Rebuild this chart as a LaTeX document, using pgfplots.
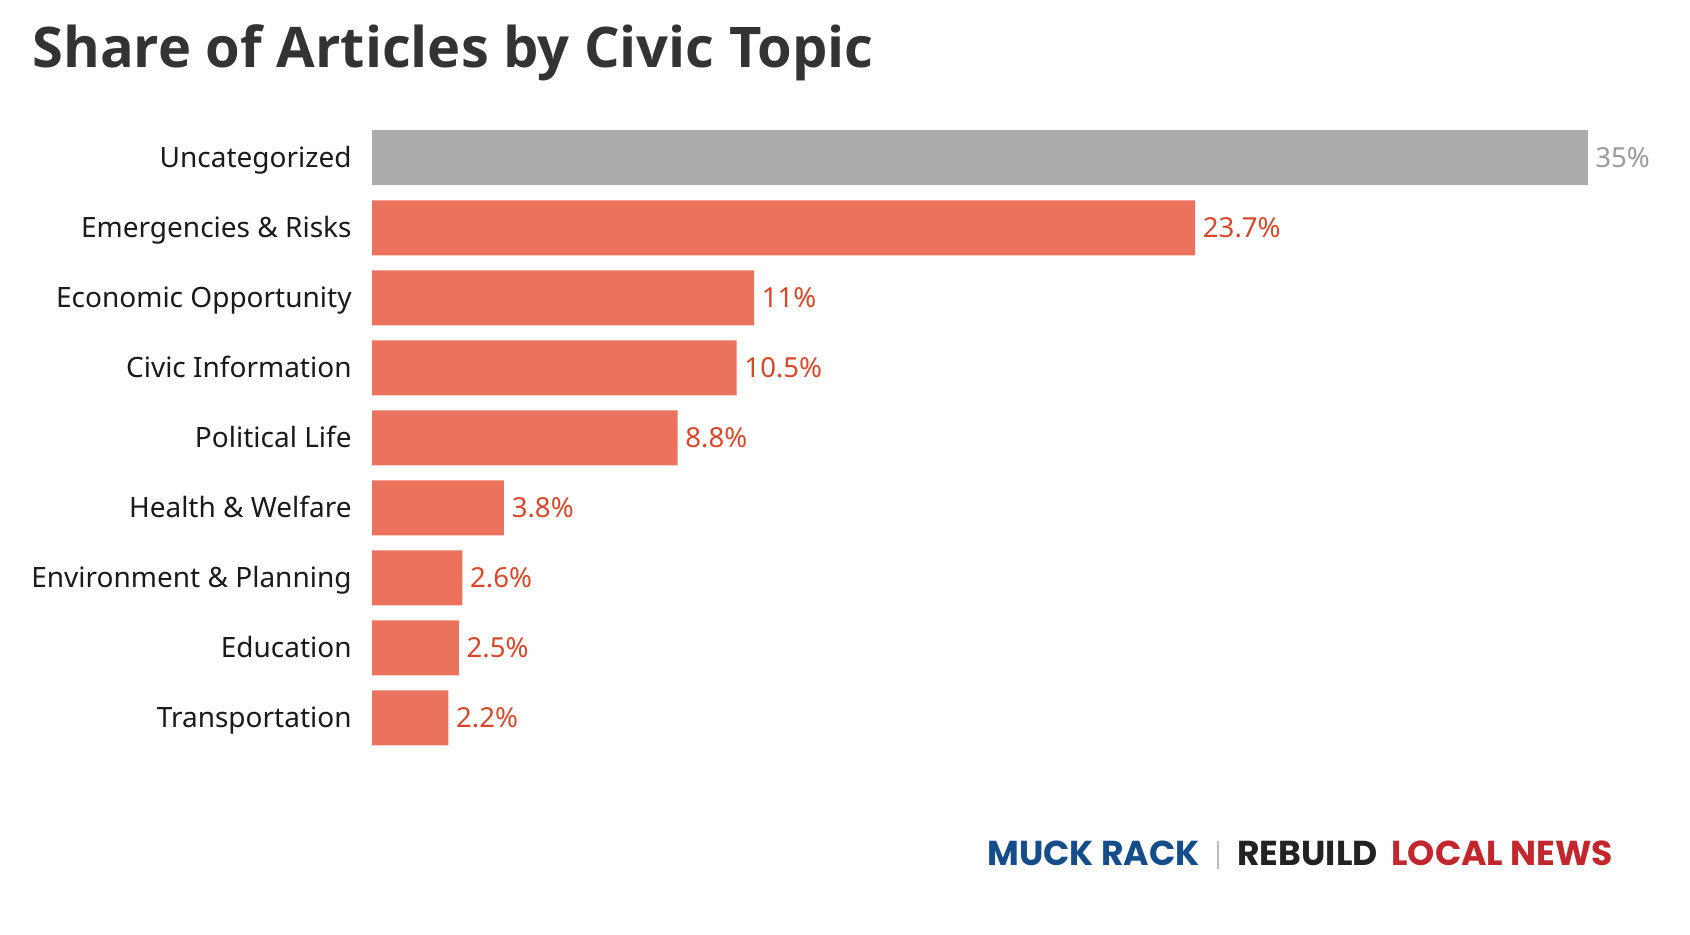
\documentclass[border=0pt]{standalone}
\usepackage{fontspec}
\setmainfont{Noto Sans}
\newfontfamily\titlefont{Open Sans}
\newfontfamily\logofont{Poppins}
\usepackage{pgfplots}
\usepackage{pgfplotstable}
\pgfplotsset{compat=1.18}

\definecolor{bargray}{HTML}{ABABAB}
\definecolor{barred}{HTML}{EB735E}
\definecolor{labgray}{HTML}{9A9A9A}
\definecolor{labred}{HTML}{D9472B}
\definecolor{titlegray}{HTML}{333333}
\definecolor{catblack}{HTML}{1A1A1A}
\definecolor{mrblue}{HTML}{154C8A}
\definecolor{rlblack}{HTML}{222222}
\definecolor{rlred}{HTML}{C1272D}
\definecolor{sepgray}{HTML}{BBBBBB}

% share of articles (%) per topic; row index = position from the top
\pgfplotstableread{
idx value
0 35
}\uncat
\pgfplotstableread{
idx value
1 23.7
2 11
3 10.5
4 8.8
5 3.8
6 2.6
7 2.5
8 2.2
}\civic

\begin{document}
\begin{tikzpicture}
\useasboundingbox (0,0) rectangle (845pt,467pt);

\node[anchor=base west, inner sep=0pt, text=titlegray,
      font={\titlefont\fontsize{28}{34}\selectfont\bfseries}]
  at (16pt,433pt) {Share of Articles by Civic Topic};

\begin{axis}[
  at={(186pt,90.55pt)}, anchor=south west,
  scale only axis, width=607.8pt, height=315pt,
  xmin=0, xmax=35, ymin=-0.5, ymax=8.5, y dir=reverse,
  xbar, bar width=27.5pt, bar shift=0pt,
  axis line style={draw=none}, major tick length=0pt,
  xtick=\empty, ytick={0,...,8},
  yticklabels={Uncategorized, Emergencies \& Risks, Economic Opportunity,
    Civic Information, Political Life, Health \& Welfare,
    Environment \& Planning, Education, Transportation},
  yticklabel style={anchor=base east, inner sep=0pt, xshift=-10pt, yshift=-4.7pt,
    text=catblack, font={\fontsize{14}{17}\selectfont}},
  nodes near coords={\pgfmathprintnumber{\pgfplotspointmeta}\%},
  nodes near coords align=horizontal,
  every node near coord/.append style={anchor=west, inner sep=0pt, xshift=3.7pt,
    font={\fontsize{13.8}{17}\selectfont}},
  /pgf/number format/assume math mode=true,
  clip=false,
]
\addplot[draw=none, fill=bargray, every node near coord/.append style={text=labgray}]
  table[x=value, y=idx] {\uncat};
\addplot[draw=none, fill=barred, every node near coord/.append style={text=labred}]
  table[x=value, y=idx] {\civic};
\end{axis}

% footer wordmarks
\node[anchor=base west, inner sep=0pt, text=mrblue,
      font={\logofont\fontsize{17.3}{20}\selectfont\bfseries}]
  at (493.5pt,34.5pt) {MUCK RACK};
\draw[sepgray, line width=0.6pt] (609pt,32.5pt) -- (609pt,46.5pt);
\node[anchor=base west, inner sep=0pt, text=rlblack,
      font={\logofont\fontsize{17.3}{20}\selectfont\bfseries}]
  at (618.5pt,34.5pt) {REBUILD};
\node[anchor=base west, inner sep=0pt, text=rlred,
      font={\logofont\fontsize{17.3}{20}\selectfont\bfseries}]
  at (695.5pt,34.5pt) {LOCAL NEWS};
\end{tikzpicture}
\end{document}
